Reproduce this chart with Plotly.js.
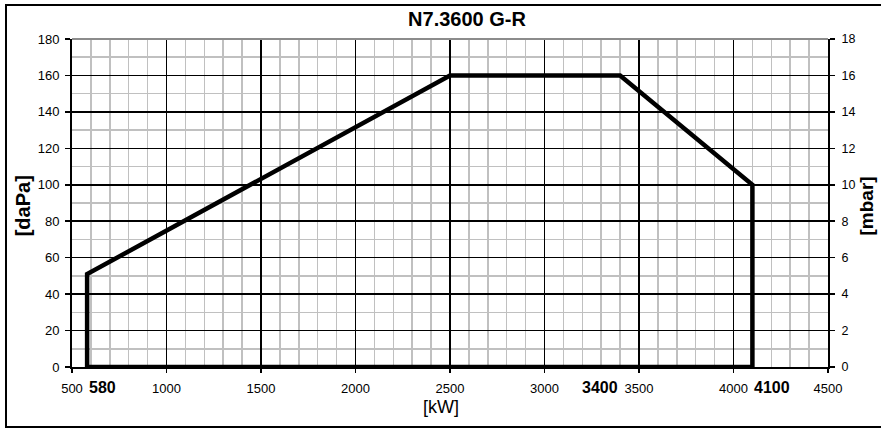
<!DOCTYPE html>
<html>
<head>
<meta charset="utf-8">
<script src="https://cdn.plot.ly/plotly-3.0.1.min.js"></script>
<style>html,body{margin:0;padding:0;background:#fff;}#chart{width:881px;height:429px;}</style>
</head>
<body>
<div id="chart"></div>
<script>
// Data
const powerKW = [580, 580, 2500, 3400, 4100, 4100, 580];
const pressureDaPa = [0, 51, 160, 160, 100, 0, 0];
const xTickVals = [500, 1000, 1500, 2000, 2500, 3000, 3500, 4000, 4500];
const yTickVals = [0, 20, 40, 60, 80, 100, 120, 140, 160, 180];
const y2TickVals = [0, 2, 4, 6, 8, 10, 12, 14, 16, 18];
const markedPowers = [580, 3400, 4100];
const chartTitle = "N7.3600 G-R";
const xTitle = "[kW]";
const yTitle = "[daPa]";
const y2Title = "[mbar]";

const FONT = "Liberation Sans, Arial, sans-serif";

const traces = [
  {
    x: powerKW, y: pressureDaPa, type: "scatter", mode: "lines",
    line: {color: "#000", width: 4.5}, hoverinfo: "skip", showlegend: false
  },
  {
    x: [500, 4500], y: [0, 18], yaxis: "y2", type: "scatter", mode: "lines",
    line: {width: 0}, opacity: 0, hoverinfo: "skip", showlegend: false
  }
];

const markAnchors = ["left", "right", "left"];
const annotations = markedPowers.map((p, i) => ({
  x: p, xref: "x", y: -0.064, yref: "paper", yanchor: "middle",
  xanchor: markAnchors[i], text: "<b>" + p + "</b>", showarrow: false,
  font: {family: FONT, size: 16, color: "#000"}
}));
annotations.push(
  {x: -0.0648, xref: "paper", y: 0.49, yref: "paper", text: "<b>" + yTitle + "</b>",
   textangle: -90, showarrow: false, xanchor: "center", yanchor: "middle",
   font: {family: FONT, size: 20, color: "#000"}},
  {x: 1.0505, xref: "paper", y: 0.49, yref: "paper", text: "<b>" + y2Title + "</b>",
   textangle: -90, showarrow: false, xanchor: "center", yanchor: "middle",
   font: {family: FONT, size: 19, color: "#000"}},
  {x: 0.488, xref: "paper", y: -0.122, yref: "paper", text: xTitle,
   showarrow: false, xanchor: "center", yanchor: "middle",
   font: {family: FONT, size: 18, color: "#000"}}
);

const layout = {
  width: 881, height: 429,
  margin: {l: 72, r: 53, t: 39, b: 62, pad: 0},
  paper_bgcolor: "#fff", plot_bgcolor: "#fff",
  font: {family: FONT, size: 13, color: "#000"},
  title: {text: "<b>" + chartTitle + "</b>", x: 0.5225, xref: "paper", xanchor: "center",
          y: 1 - 19/429, yref: "container", yanchor: "middle",
          font: {family: FONT, size: 20, color: "#000"}},
  showlegend: false,
  xaxis: {
    range: [500, 4500], tickvals: xTickVals, ticktext: xTickVals.map(String),
    showgrid: true, gridcolor: "#000", gridwidth: 1.5,
    minor: {dtick: 100, tick0: 500, showgrid: true, gridcolor: "#c0c0c0", gridwidth: 1.5, ticks: ""},
    zeroline: false, showline: true, linecolor: "#000", linewidth: 2,
    ticks: "outside", ticklen: 4, tickcolor: "#000", tickwidth: 1.5,
    ticklabelstandoff: 4,
    tickfont: {family: FONT, size: 13, color: "#000"}, fixedrange: true
  },
  yaxis: {
    range: [0, 180], tickvals: yTickVals, ticktext: yTickVals.map(String),
    showgrid: true, gridcolor: "#000", gridwidth: 1.5,
    minor: {dtick: 10, tick0: 0, showgrid: true, gridcolor: "#c0c0c0", gridwidth: 1.5, ticks: ""},
    zeroline: false, showline: true, linecolor: "#000", linewidth: 2,
    ticks: "outside", ticklen: 5, tickcolor: "#000", tickwidth: 1.5,
    ticklabelstandoff: 3,
    tickfont: {family: FONT, size: 13, color: "#000"}, fixedrange: true
  },
  yaxis2: {
    range: [0, 18], overlaying: "y", side: "right", tickvals: y2TickVals, ticktext: y2TickVals.map(String),
    showgrid: false, zeroline: false, showline: true, linecolor: "#000", linewidth: 2,
    ticks: "outside", ticklen: 5, tickcolor: "#000", tickwidth: 1.5,
    ticklabelstandoff: 4,
    tickfont: {family: FONT, size: 12.5, color: "#000"}, fixedrange: true
  },
  annotations: annotations,
  shapes: [
    {type: "line", xref: "paper", yref: "paper", x0: 0, x1: 1, y0: 1, y1: 1,
     line: {color: "#8c8c8c", width: 2}, layer: "above"},
    {type: "rect", xref: "paper", yref: "paper", x0: -0.0873, x1: 1.1, y0: -0.183, y1: 1.1037,
     line: {color: "#000", width: 2}, fillcolor: "rgba(0,0,0,0)", layer: "above"}
  ]
};

Plotly.newPlot("chart", traces, layout, {displayModeBar: false, staticPlot: true});
</script>
</body>
</html>
